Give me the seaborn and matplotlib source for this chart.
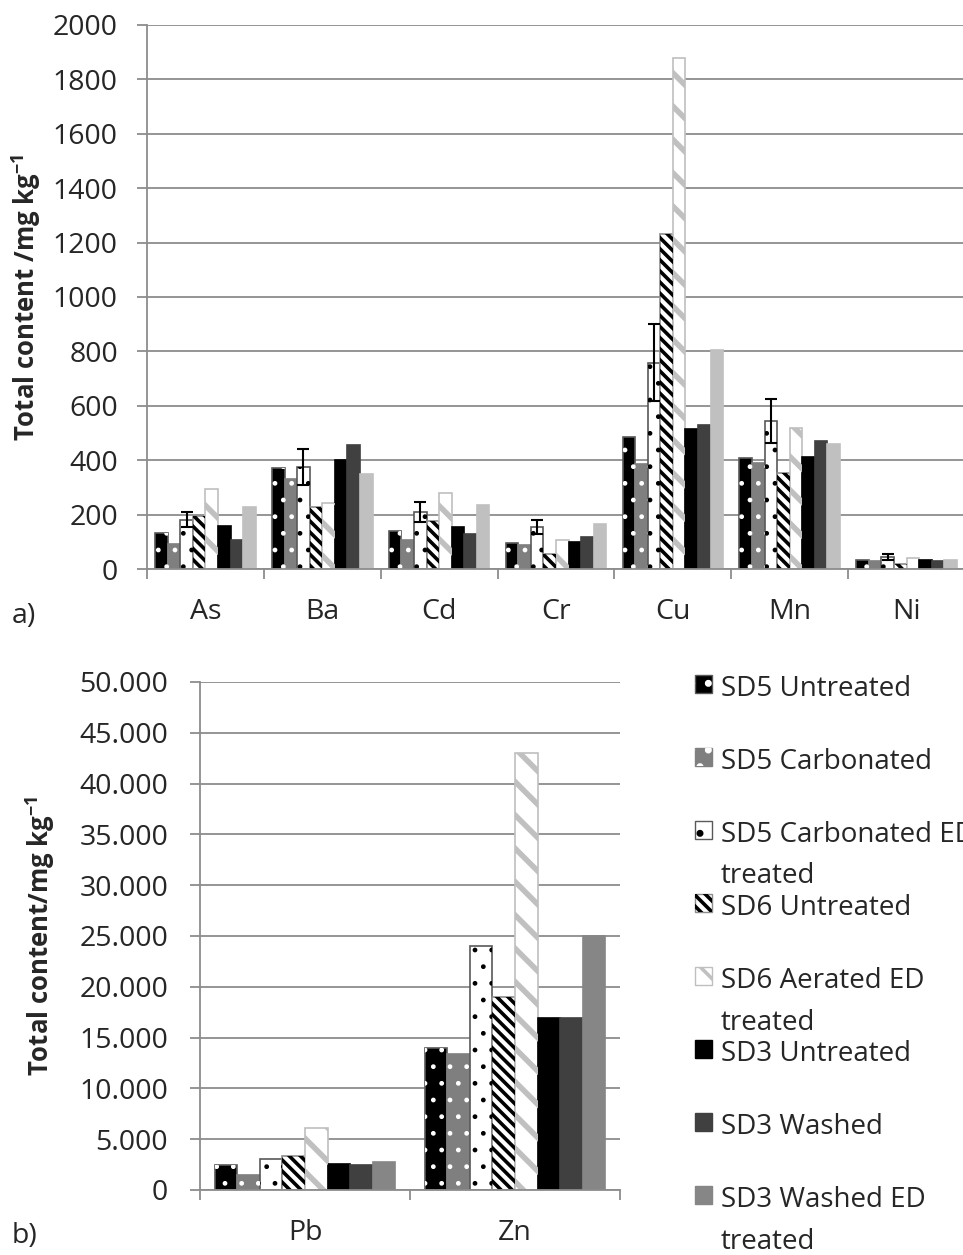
import numpy as np
import pandas as pd
import matplotlib
matplotlib.use('Agg')
import matplotlib.pyplot as plt
from matplotlib.patches import Patch, Rectangle
from matplotlib.ticker import FuncFormatter, FixedLocator, MultipleLocator
import seaborn as sns

# series (hue levels)
series = ['SD5 Untreated', 'SD5 Carbonated', 'SD5 Carbonated ED treated',
          'SD6 Untreated', 'SD6 Aerated ED treated', 'SD3 Untreated',
          'SD3 Washed', 'SD3 Washed ED treated']
legend_labels = ['SD5 Untreated\n', 'SD5 Carbonated\n', 'SD5 Carbonated ED\ntreated',
                 'SD6 Untreated\n', 'SD6 Aerated ED\ntreated', 'SD3 Untreated\n',
                 'SD3 Washed\n', 'SD3 Washed ED\ntreated']

# a) total content, mg/kg
elements_a = ['As', 'Ba', 'Cd', 'Cr', 'Cu', 'Mn', 'Ni']
sd5_untreated_a = [133, 373, 138, 97, 486, 407, 32]
sd5_carbonated_a = [92, 330, 107, 89, 385, 390, 28]
sd5_carb_ed_a = [182, 374, 211, 156, 759, 544, 45]
sd5_carb_ed_err_a = [28, 66, 37, 26, 143, 82, 12]
sd6_untreated_a = [196, 227, 178, 55, 1232, 353, 17]
sd6_aerated_ed_a = [295, 243, 280, 108, 1878, 518, 40]
sd3_untreated_a = [157, 399, 155, 98, 516, 410, 34]
sd3_washed_a = [107, 457, 130, 116, 528, 471, 29]
sd3_washed_ed_a = [227, 350, 235, 167, 804, 460, 33]

# b) total content, mg/kg
elements_b = ['Pb', 'Zn']
sd5_untreated_b = [2500, 14000]
sd5_carbonated_b = [1480, 13350]
sd5_carb_ed_b = [3030, 24000]
sd6_untreated_b = [3390, 18950]
sd6_aerated_ed_b = [6150, 43050]
sd3_untreated_b = [2570, 16900]
sd3_washed_b = [2470, 16900]
sd3_washed_ed_b = [2730, 24980]

cols_a = [sd5_untreated_a, sd5_carbonated_a, sd5_carb_ed_a, sd6_untreated_a,
          sd6_aerated_ed_a, sd3_untreated_a, sd3_washed_a, sd3_washed_ed_a]
cols_b = [sd5_untreated_b, sd5_carbonated_b, sd5_carb_ed_b, sd6_untreated_b,
          sd6_aerated_ed_b, sd3_untreated_b, sd3_washed_b, sd3_washed_ed_b]

# styles
faces_a = ['black', '#7f7f7f', 'white', 'white', 'white', 'black', '#404040', '#c0c0c0']
faces_b = ['black', '#7f7f7f', 'white', 'white', 'white', 'black', '#404040', '#868686']
outlines = ['#595959', '#7f7f7f', '#595959', '#8c8c8c', '#bfbfbf', None, None, None]
hatches = ['.', '.', '.', '\\\\\\', '\\', None, None, None]
hatch_colors = ['white', 'white', 'black', 'black', '#c0c0c0', None, None, None]
hatch_lws = [1.0, 1.0, 1.0, 2.6, 4.0, 1.0, 1.0, 1.0]

grid_col = '#8c8c8c'
fs = 20.5
leg_fs = 20

sns.set_style('white')
plt.rcParams['font.family'] = ['Open Sans', 'DejaVu Sans']
plt.rcParams['mathtext.fontset'] = 'custom'
plt.rcParams['mathtext.rm'] = 'Open Sans'
plt.rcParams['mathtext.bf'] = 'Open Sans:bold'
plt.rcParams['hatch.linewidth'] = 2.6


def long_table(elements, columns):
    rows = []
    for s, vals in zip(series, columns):
        for e, v in zip(elements, vals):
            rows.append({'element': e, 'series': s, 'value': v})
    return pd.DataFrame(rows)


def hatch_overlay(ax, bar, i):
    ov = Rectangle(bar.get_xy(), bar.get_width(), bar.get_height(), fill=False,
                   edgecolor=hatch_colors[i], lw=0, hatch=hatches[i],
                   zorder=bar.get_zorder() + 0.1)
    if hasattr(ov, 'set_hatch_linewidth'):
        ov.set_hatch_linewidth(hatch_lws[i])
    ax.add_patch(ov)


def draw_panel(ax, elements, columns, faces):
    df = long_table(elements, columns)
    sns.barplot(data=df, x='element', y='value', hue='series', hue_order=series,
                palette=faces, width=0.86, gap=0, errorbar=None, legend=False,
                saturation=1, ax=ax)
    containers = list(ax.containers)
    for i, cont in enumerate(containers):
        for bar in cont:
            bar.set_edgecolor(outlines[i] or faces[i])
            bar.set_linewidth(1.2)
            if hatches[i]:
                hatch_overlay(ax, bar, i)
    ax.set_axisbelow(True)
    ax.yaxis.grid(True, color=grid_col, lw=1.3)
    ax.xaxis.grid(False)
    for side in ['top', 'right']:
        ax.spines[side].set_visible(False)
    for side in ['left', 'bottom']:
        ax.spines[side].set_color(grid_col)
        ax.spines[side].set_linewidth(1.3)
    n = len(elements)
    ax.set_xlim(-0.5, n - 0.5)
    ax.xaxis.set_minor_locator(FixedLocator(np.arange(n + 1) - 0.5))
    ax.tick_params(axis='x', which='major', length=0, pad=21, labelsize=fs)
    ax.tick_params(axis='x', which='minor', length=7, width=1.3, color=grid_col, bottom=True)
    ax.tick_params(axis='y', which='major', length=7, width=1.3, color=grid_col,
                   labelsize=fs, left=True)
    ax.set_xlabel('')
    return containers


fig = plt.figure(figsize=(9.63, 12.55), dpi=100)

# panel a
ax1 = fig.add_axes([0.1527, 0.5466, 0.8494, 0.4335])
conts = draw_panel(ax1, elements_a, cols_a, faces_a)
xs = [b.get_x() + b.get_width() / 2 for b in conts[2]]
ax1.errorbar(xs, sd5_carb_ed_a, yerr=sd5_carb_ed_err_a, fmt='none', ecolor='black',
             elinewidth=1.5, capsize=4.5, capthick=1.5, zorder=5)
ax1.set_ylim(0, 2000)
ax1.yaxis.set_major_locator(MultipleLocator(200))
ax1.tick_params(axis='y', pad=14)
ax1.set_ylabel(r'Total content /mg kg$^{\mathbf{-1}}$', fontsize=18.5, fontweight='bold')
ax1.yaxis.set_label_coords(-0.127, 0.5)

# panel b
ax2 = fig.add_axes([0.2077, 0.0518, 0.4361, 0.4048])
draw_panel(ax2, elements_b, cols_b, faces_b)
ax2.set_ylim(0, 50000)
ax2.yaxis.set_major_locator(MultipleLocator(5000))
ax2.yaxis.set_major_formatter(FuncFormatter(lambda v, p: f'{int(v):,}'.replace(',', '.')))
ax2.tick_params(axis='y', pad=16)
ax2.set_ylabel(r'Total content/mg kg$^{\mathbf{-1}}$', fontsize=18.5, fontweight='bold')
ax2.yaxis.set_label_coords(-0.34, 0.5)

fig.text(12 / 963, 1 - 616 / 1255, 'a)', fontsize=fs, va='center', ha='left')
fig.text(12 / 963, 1 - 1236 / 1255, 'b)', fontsize=fs, va='center', ha='left')

# legend
handles = []
for i in range(len(series)):
    base = Patch(facecolor=faces_b[i], edgecolor=outlines[i] or faces_b[i], lw=1.0)
    if hatches[i]:
        hp = Patch(fill=False, edgecolor=hatch_colors[i], lw=0, hatch=hatches[i])
        if hasattr(hp, 'set_hatch_linewidth'):
            hp.set_hatch_linewidth(hatch_lws[i])
        handles.append((base, hp))
    else:
        handles.append(base)
leg = fig.legend(handles, legend_labels, loc='upper left', bbox_to_anchor=(0.7217, 0.4622),
                 frameon=False, fontsize=leg_fs, handlelength=0.62, handleheight=0.62,
                 handletextpad=0.3, labelspacing=0.13, borderpad=0, borderaxespad=0)
for t in leg.get_texts():
    t.set_linespacing(1.64)
for col in leg._legend_handle_box.get_children():
    for item in col.get_children():
        item.align = 'top'

fig.savefig('out.png', dpi=100)
